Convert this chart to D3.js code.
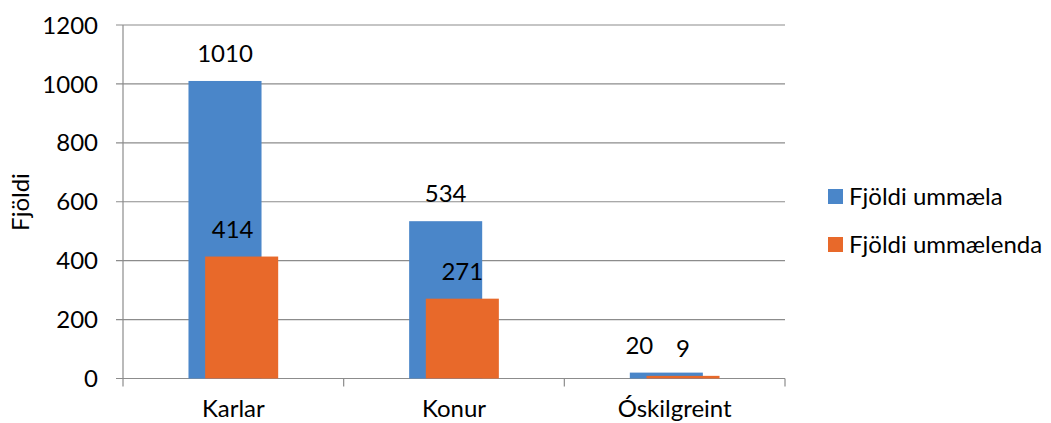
<!DOCTYPE html>
<html>
<head>
<meta charset="utf-8">
<script src="https://cdn.jsdelivr.net/npm/d3@7"></script>
<style>
  html, body { margin: 0; padding: 0; background: #ffffff; }
  svg text { font-family: "Lato", "Liberation Sans", sans-serif; fill: #000; }
</style>
</head>
<body>
<svg id="chart" width="1051" height="423"></svg>
<script>
const categories = ["Karlar", "Konur", "Óskilgreint"];
const seriesNames = ["Fjöldi ummæla", "Fjöldi ummælenda"];
const ummaela = [1010, 534, 20];
const ummaelenda = [414, 271, 9];
const yTicks = [0, 200, 400, 600, 800, 1000, 1200];
const yTitle = "Fjöldi";

(function () {
const colors = ["#4A86C9", "#E8692A"];
const series = [ummaela, ummaelenda];

const svg = d3.select("#chart");
const pLeft = 123, pRight = 785, pTop = 25, pBottom = 378.5;
const fs = 24;

const x = d3.scaleBand().domain(categories).range([pLeft, pRight]).padding(0);
const y = d3.scaleLinear().domain([0, 1200]).range([pBottom, pTop]);

svg.append("g").selectAll("line").data(yTicks).join("line")
  .attr("x1", pLeft - 7).attr("x2", pRight)
  .attr("y1", d => y(d)).attr("y2", d => y(d))
  .attr("stroke", "#8c8c8c").attr("stroke-width", 1.2);

svg.append("line").attr("x1", pLeft).attr("x2", pLeft)
  .attr("y1", pTop).attr("y2", pBottom + 8)
  .attr("stroke", "#8c8c8c").attr("stroke-width", 1.2);

const catEdges = categories.map(c => x(c)).concat([pRight]);
svg.append("g").selectAll("line").data(catEdges.slice(1)).join("line")
  .attr("x1", d => d).attr("x2", d => d)
  .attr("y1", pBottom).attr("y2", pBottom + 8)
  .attr("stroke", "#8c8c8c").attr("stroke-width", 1.2);

svg.append("g").selectAll("text").data(yTicks).join("text")
  .attr("x", 98).attr("y", d => y(d))
  .attr("dy", "0.36em")
  .attr("text-anchor", "end")
  .style("font-size", fs + "px")
  .text(d => d);

svg.append("text")
  .attr("transform", `translate(29,202) rotate(-90)`)
  .attr("text-anchor", "middle")
  .style("font-size", fs + "px")
  .text(yTitle);

const bw = x.bandwidth();
const barW = bw * 0.331;
const shift = bw * 0.0755;
const groupW = barW + shift;
const labelDx = [[0, 0, -27], [-9, 0, 0]];

series.forEach((vals, si) => {
  const g = svg.append("g");
  g.selectAll("rect").data(vals).join("rect")
    .attr("x", (d, i) => x(categories[i]) + bw / 2 - groupW / 2 + si * shift)
    .attr("y", d => y(d))
    .attr("width", barW)
    .attr("height", d => y(0) - y(d))
    .attr("fill", colors[si]);
  g.selectAll("text").data(vals).join("text")
    .attr("x", (d, i) => x(categories[i]) + bw / 2 - groupW / 2 + si * shift + barW / 2 + labelDx[si][i])
    .attr("y", d => y(d) - 19)
    .attr("text-anchor", "middle")
    .style("font-size", fs + "px")
    .text(d => d);
});

svg.append("g").selectAll("text").data(categories).join("text")
  .attr("x", d => x(d) + bw / 2)
  .attr("y", 417)
  .attr("text-anchor", "middle")
  .style("font-size", fs + "px")
  .text(d => d);

const leg = svg.append("g");
seriesNames.forEach((name, i) => {
  const ly = 196.5 + i * 48;
  leg.append("rect").attr("x", 828).attr("y", ly - 7.5).attr("width", 15).attr("height", 15).attr("fill", colors[i]);
  leg.append("text").attr("x", 849).attr("y", ly).attr("dy", "0.36em")
    .style("font-size", fs + "px").text(name);
});
})();
</script>
</body>
</html>
